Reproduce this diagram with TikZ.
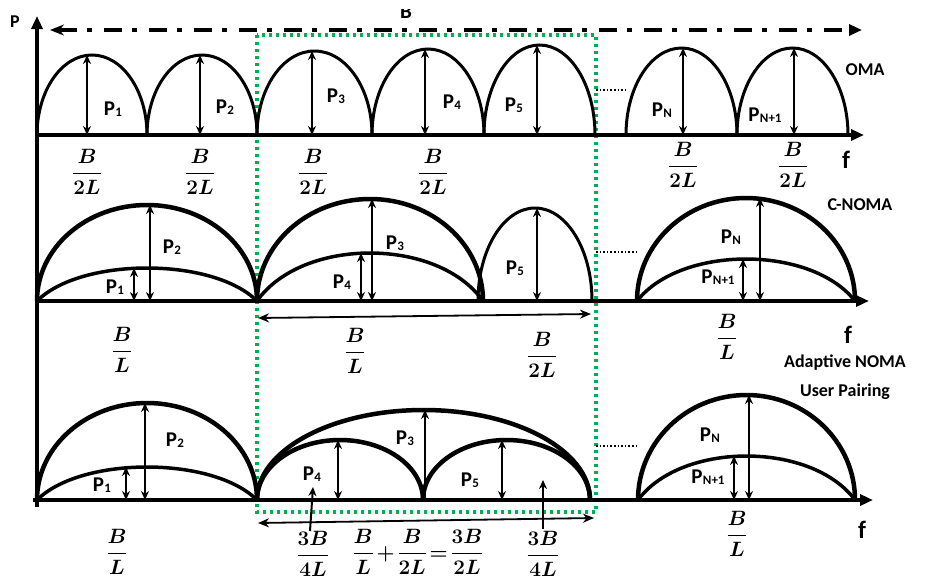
\documentclass[tikz,border=0pt]{standalone}
\usepackage{fontspec}
\usepackage{amsmath}
\setmainfont{Carlito}
\usetikzlibrary{arrows.meta}
\definecolor{dgreen}{RGB}{0,176,80}
\newcommand{\Psub}[1]{P\kern0.3pt\raisebox{-1pt}{\fontsize{13}{13}\selectfont #1}}
% semi-ellipse arch: style, x1, x2, base y, peak y
\newcommand{\arch}[5]{\draw[#1] (#2,-#4) arc[start angle=180,end angle=0,x radius={(#3-#2)/2*1pt},y radius={(#4-#5)*1pt}];}
% flatter arch (bezier): style, x1, x2, base y, peak y
\newcommand{\flatarch}[5]{\draw[#1] (#2,-#4) .. controls ({#2+0.2*(#3-#2)},{-#4+1.333*(#4-#5)}) and ({#3-0.2*(#3-#2)},{-#4+1.333*(#4-#5)}) .. (#3,-#4);}
% power arrow: name, style, x, top y, bottom y
\newcommand{\parr}[5]{\coordinate (#1t) at (#3,-#4); \coordinate (#1b) at (#3,-#5); \draw[#2] (#1t) -- (#1b);}
\tikzset{
  axisline/.style={line width=3.5pt,-{Triangle[length=13pt,width=11pt]}},
  omaarch/.style={line width=3pt},
  thickarch/.style={line width=4.5pt},
  innerarch/.style={line width=3.5pt},
  parrow/.style={line width=2pt,{Stealth[length=9pt,width=8pt]}-{Stealth[length=9pt,width=8pt]}},
  uparrow/.style={line width=2pt,-{Stealth[length=9pt,width=8pt]}},
  spanarrow/.style={line width=1.8pt,{Stealth[length=11pt,width=9pt]}-{Stealth[length=11pt,width=9pt]}},
  lbl/.style={font=\fontsize{21}{23}\selectfont\bfseries,inner sep=0pt},
  ttl/.style={font=\fontsize{18}{20}\selectfont\bfseries,inner sep=0pt},
  fvar/.style={font=\fontsize{25}{27}\selectfont\bfseries,inner sep=0pt},
  fr/.style={font=\fontsize{21}{24}\selectfont\boldmath,inner sep=0pt},
  gap/.style={line width=1.6pt,dotted},
}
\begin{document}
\begin{tikzpicture}[x=1pt,y=1pt]
\useasboundingbox (0,0) rectangle (925,-579);
% green dotted box
\draw[dgreen,line width=3.2pt,dash pattern=on 3pt off 4pt] (257,-35) rectangle (596,-512);
% vertical axis and bandwidth arrow
\coordinate (origin) at (37,-507);
\coordinate (ptop) at (37,-16);
\draw[axisline] (origin) -- (ptop);
\node[ttl] (plbl) at (15,-22) {P};
\coordinate (bl) at (50,-30);
\coordinate (br) at (862,-30);
\draw[line width=4pt,dash pattern=on 18pt off 10pt on 5pt off 12pt,{Stealth[length=14pt,width=11pt]}-{Triangle[length=13pt,width=11pt]}] (bl) -- (br);
\begin{scope}
\clip (390,-9) rectangle (425,-24);
\node[lbl,anchor=base] (blbl) at (406,-18) {B};
\end{scope}

% ---------- OMA ----------
\coordinate (oa0) at (37,-135);
\coordinate (oa1) at (864,-135);
\draw[axisline] (oa0) -- (oa1);
\arch{omaarch}{37}{147}{135}{55}
\arch{omaarch}{147}{257}{135}{55}
\arch{omaarch}{257}{372}{135}{51}
\arch{omaarch}{372}{484}{135}{49}
\arch{omaarch}{484}{595}{135}{45}
\arch{omaarch}{626}{737}{135}{48}
\arch{omaarch}{737}{848}{135}{48}
\parr{o1}{parrow}{87}{55}{135}
\parr{o2}{parrow}{200}{55}{135}
\parr{o3}{parrow}{312}{51}{135}
\parr{o4}{parrow}{425}{49}{135}
\parr{o5}{parrow}{537}{45}{135}
\parr{o6}{parrow}{683}{48}{135}
\parr{o7}{parrow}{794}{48}{135}
\coordinate (og1) at (596,-90);
\coordinate (og2) at (628,-90);
\draw[gap] (og1) -- (og2);
\node[lbl] (op1) at (113,-109) {\Psub{1}};
\node[lbl] (op2) at (225,-107) {\Psub{2}};
\node[lbl] (op3) at (336,-96) {\Psub{3}};
\node[lbl] (op4) at (452,-102) {\Psub{4}};
\node[lbl] (op5) at (514,-105) {\Psub{5}};
\node[lbl] (opn) at (662,-110) {\Psub{N}};
\node[lbl] (opn1) at (765,-115) {\Psub{N+1}};
\node[ttl] (oma) at (865,-70) {OMA};
\node[fr] (of1) at (87,-172) {$\dfrac{B}{2L}$};
\node[fr] (of2) at (200,-172) {$\dfrac{B}{2L}$};
\node[fr] (of3) at (313,-172) {$\dfrac{B}{2L}$};
\node[fr] (of4) at (433,-172) {$\dfrac{B}{2L}$};
\node[fr] (of5) at (683,-165) {$\dfrac{B}{2L}$};
\node[fr] (of6) at (793,-165) {$\dfrac{B}{2L}$};
\node[fvar] (of) at (846,-160) {f};

% ---------- C-NOMA ----------
\coordinate (ca0) at (37,-301);
\coordinate (ca1) at (869,-301);
\draw[axisline] (ca0) -- (ca1);
\arch{thickarch}{37}{257}{301}{205}
\flatarch{innerarch}{37}{257}{301}{268}
\arch{thickarch}{257}{483}{301}{199}
\flatarch{innerarch}{257}{483}{301}{253}
\arch{omaarch}{478}{592}{301}{208}
\arch{thickarch}{637}{855}{301}{198}
\flatarch{innerarch}{637}{855}{301}{259}
\parr{c2}{parrow}{150}{205}{301}
\parr{c1}{parrow}{134}{268}{301}
\parr{c3}{parrow}{372}{199}{301}
\parr{c4}{parrow}{361}{253}{301}
\parr{c5}{parrow}{537}{208}{301}
\parr{cn}{parrow}{760}{198}{301}
\parr{cn1}{parrow}{743}{259}{301}
\coordinate (cg1) at (596,-252);
\coordinate (cg2) at (636,-252);
\draw[gap] (cg1) -- (cg2);
\coordinate (cs1) at (258,-318);
\coordinate (cs2) at (591,-314);
\draw[spanarrow] (cs1) -- (cs2);
\node[lbl] (cp2) at (172,-247) {\Psub{2}};
\node[lbl] (cp1) at (115,-287) {\Psub{1}};
\node[lbl] (cp3) at (395,-243) {\Psub{3}};
\node[lbl] (cp4) at (342,-282) {\Psub{4}};
\node[lbl] (cp5) at (515,-268) {\Psub{5}};
\node[lbl] (cpn) at (731,-237) {\Psub{N}};
\node[lbl] (cpn1) at (718,-277) {\Psub{N+1}};
\node[ttl] (cnoma) at (860,-205) {C-NOMA};
\node[fr] (cf1) at (122,-350) {$\dfrac{B}{L}$};
\node[fr] (cf2) at (355,-351) {$\dfrac{B}{L}$};
\node[fr] (cf3) at (542,-355) {$\dfrac{B}{2L}$};
\node[fr] (cf4) at (727,-337) {$\dfrac{B}{L}$};
\node[fvar] (cf) at (848,-335) {f};
\node[ttl] (anoma) at (845,-363) {Adaptive NOMA};
\node[ttl] (upair) at (845,-392) {User Pairing};

% ---------- Adaptive NOMA ----------
\coordinate (aa0) at (33,-500);
\coordinate (aa1) at (873,-500);
\draw[axisline] (aa0) -- (aa1);
\arch{thickarch}{37}{257}{500}{403}
\flatarch{innerarch}{37}{257}{500}{467}
\arch{thickarch}{257}{590}{500}{410}
\arch{thickarch}{257}{423}{500}{440}
\arch{thickarch}{423}{590}{500}{440}
\arch{thickarch}{638}{855}{500}{395}
\flatarch{innerarch}{638}{855}{500}{456}
\parr{a2}{parrow}{145}{403}{500}
\parr{a1}{parrow}{126}{467}{500}
\coordinate (a3b) at (425,-498);
\coordinate (a3t) at (425,-410);
\draw[uparrow] (a3b) -- (a3t);
\parr{a4}{parrow}{338}{440}{500}
\parr{a5}{parrow}{502}{440}{500}
\parr{an}{parrow}{749}{395}{500}
\parr{an1}{parrow}{734}{456}{500}
\coordinate (ag1) at (596,-446);
\coordinate (ag2) at (637,-446);
\draw[gap] (ag1) -- (ag2);
\coordinate (as1) at (258,-523);
\coordinate (as2) at (594,-518);
\draw[spanarrow] (as1) -- (as2);
\coordinate (u1b) at (310,-531);
\coordinate (u1t) at (313,-487);
\draw[uparrow] (u1b) -- (u1t);
\coordinate (u2b) at (543,-529);
\coordinate (u2t) at (543,-480);
\draw[uparrow] (u2b) -- (u2t);
\node[lbl] (ap2) at (175,-440) {\Psub{2}};
\node[lbl] (ap1) at (102,-485) {\Psub{1}};
\node[lbl] (ap3) at (405,-438) {\Psub{3}};
\node[lbl] (ap4) at (312,-474) {\Psub{4}};
\node[lbl] (ap5) at (470,-480) {\Psub{5}};
\node[lbl] (apn) at (710,-435) {\Psub{N}};
\node[lbl] (apn1) at (708,-477) {\Psub{N+1}};
\node[fr] (af1) at (117,-552) {$\dfrac{B}{L}$};
\node[fr] (af2) at (313,-554) {$\dfrac{3B}{4L}$};
\node[fr] (af3) at (418,-552) {$\medmuskip=2mu\thickmuskip=2mu\dfrac{B}{L}+\dfrac{B}{2L}=\dfrac{3B}{2L}$};
\node[fr] (af4) at (543,-554) {$\dfrac{3B}{4L}$};
\node[fr] (af5) at (737,-534) {$\dfrac{B}{L}$};
\node[fvar] (af) at (862,-530) {f};
\end{tikzpicture}
\end{document}
